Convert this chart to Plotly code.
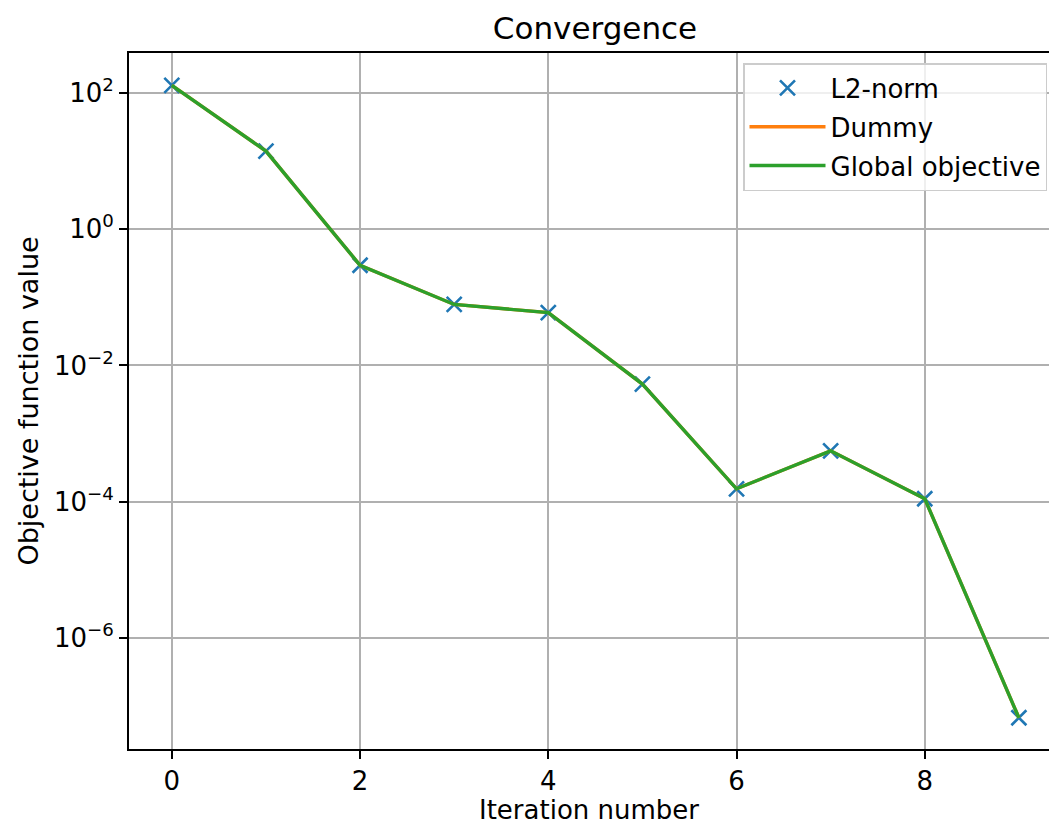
import plotly.graph_objects as go

iterations = [0, 1, 2, 3, 4, 5, 6, 7, 8, 9]
l2_norm = [130, 14.1, 0.296, 0.0787, 0.0598, 0.00532, 1.54e-4, 5.57e-4, 1.10e-4, 6.67e-8]
dummy = [130, 14.1, 0.296, 0.0787, 0.0598, 0.00532, 1.54e-4, 5.57e-4, 1.10e-4, 6.67e-8]
global_objective = [130, 14.1, 0.296, 0.0787, 0.0598, 0.00532, 1.54e-4, 5.57e-4, 1.10e-4, 6.67e-8]

x_ticks = [0, 2, 4, 6, 8]
y_tick_vals = [1e2, 1e0, 1e-2, 1e-4, 1e-6]
y_tick_text = ["10<sup>2</sup>", "10<sup>0</sup>", "10<sup>\u22122</sup>", "10<sup>\u22124</sup>", "10<sup>\u22126</sup>"]

FONT = "DejaVu Sans"
W, H = 1049, 825
L, T, B = 129, 53, 76
FS = 26

fig = go.Figure()
fig.add_trace(go.Scatter(
    x=iterations, y=l2_norm, mode="markers", name="L2-norm", legendgroup="a",
    marker=dict(symbol="x-thin", size=15, color="#1f77b4", line=dict(width=2.6, color="#1f77b4")),
))
fig.add_trace(go.Scatter(
    x=iterations, y=dummy, mode="lines", name="Dummy", legendgroup="b",
    line=dict(color="#ff7f0e", width=3.4),
))
fig.add_trace(go.Scatter(
    x=iterations, y=global_objective, mode="lines", name="Global objective", legendgroup="c",
    line=dict(color="#2ca02c", width=3.4),
))

fig.update_layout(
    width=W, height=H,
    margin=dict(l=L, r=0, t=T, b=B, pad=0),
    paper_bgcolor="white", plot_bgcolor="white",
    font=dict(family=FONT, size=FS, color="black"),
    title=dict(text="Convergence", x=595 / W, xanchor="center", y=1 - 28 / H, yanchor="middle",
               xref="container", yref="container",
               font=dict(family=FONT, size=31, color="black")),
    showlegend=True,
    legend=dict(
        x=(1047 - L) / (W - L), xanchor="right",
        y=(H - B - 63) / (H - T - B), yanchor="top",
        bgcolor="rgba(255,255,255,0.8)", bordercolor="#cccccc", borderwidth=1.5,
        font=dict(family=FONT, size=FS, color="black"),
        traceorder="grouped", tracegroupgap=2, itemwidth=76,
    ),
    xaxis=dict(
        range=[-0.455, 9.32], tickvals=x_ticks, ticktext=[str(v) for v in x_ticks],
        showgrid=True, gridcolor="#b0b0b0", gridwidth=1.8, zeroline=False,
        showline=True, linecolor="black", linewidth=1.8, mirror=True,
        ticks="outside", ticklen=8, tickwidth=1.8, tickcolor="black",
        tickfont=dict(family=FONT, size=FS),
        title=dict(text="Iteration number", font=dict(family=FONT, size=FS), standoff=12),
    ),
    yaxis=dict(
        type="log", range=[-7.635, 2.59], tickvals=y_tick_vals, ticktext=y_tick_text,
        showgrid=True, gridcolor="#b0b0b0", gridwidth=1.8, zeroline=False,
        showline=True, linecolor="black", linewidth=1.8, mirror=False,
        ticks="outside", ticklen=8, tickwidth=1.8, tickcolor="black",
        tickfont=dict(family=FONT, size=FS),
        title=dict(text="Objective function value", font=dict(family=FONT, size=27), standoff=8),
    ),
)

fig.write_html("out.html")
